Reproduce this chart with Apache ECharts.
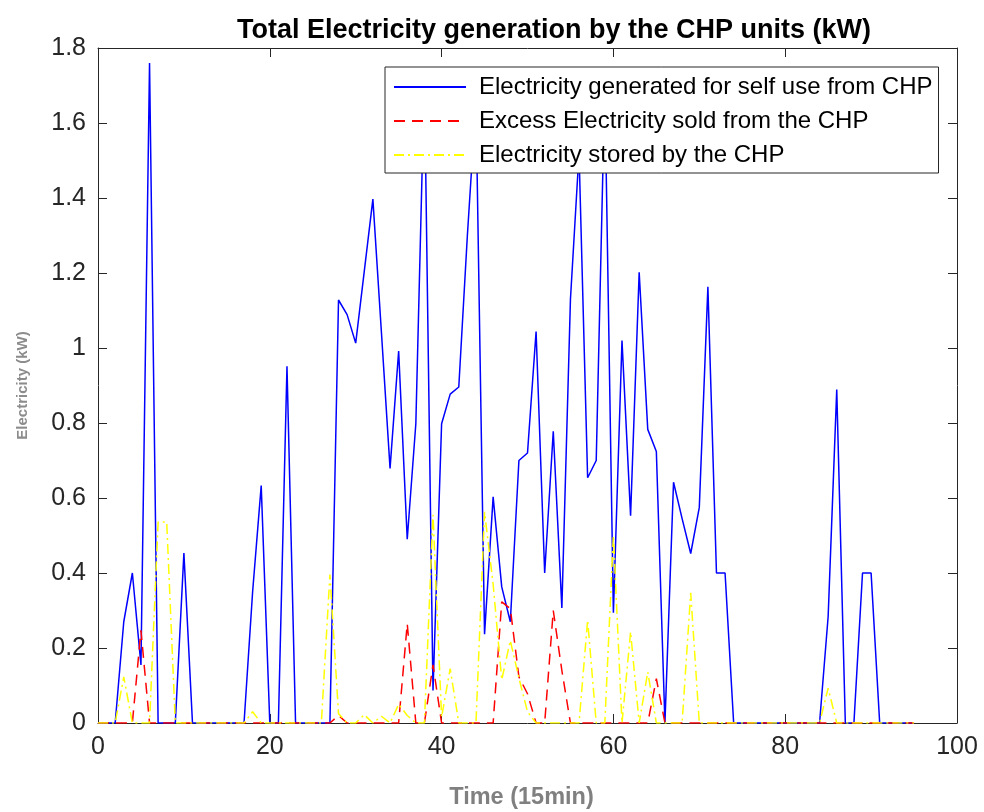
<!DOCTYPE html>
<html><head><meta charset="utf-8">
<script src="https://cdn.jsdelivr.net/npm/echarts@6/dist/echarts.min.js"></script>
<style>html,body{margin:0;padding:0;background:#fff}#c{width:984px;height:812px}</style>
</head><body><div id="c"></div>
<script>
const timeSteps = [
  0,1,2,3,4,5,6,7,8,9,
  10,11,12,13,14,15,16,17,18,19,
  20,21,22,23,24,25,26,27,28,29,
  30,31,32,33,34,35,36,37,38,39,
  40,41,42,43,44,45,46,47,48,49,
  50,51,52,53,54,55,56,57,58,59,
  60,61,62,63,64,65,66,67,68,69,
  70,71,72,73,74,75,76,77,78,79,
  80,81,82,83,84,85,86,87,88,89,
  90,91,92,93,94,95
];
const selfUse = [
  0,0,0,0.27,0.40,0.155,1.76,0,0,0,
  0.453,0,0,0,0,0,0,0,0.35,0.633,
  0,0,0.951,0,0,0,0,0,1.128,1.089,
  1.013,1.205,1.397,1.04,0.679,0.992,0.49,0.798,1.72,0.087,
  0.798,0.877,0.896,1.30,1.66,0.237,0.603,0.363,0.27,0.70,
  0.72,1.044,0.40,0.778,0.307,1.13,1.52,0.654,0.70,1.70,
  0.294,1.02,0.553,1.202,0.783,0.724,0,0.642,0.545,0.452,
  0.575,1.163,0.40,0.40,0,0,0,0,0,0,
  0,0,0,0,0,0.284,0.889,0,0,0.40,
  0.40,0,0,0,0,0
];
const sold = [
  0,0,0,0,0,0.247,0,0,0,0,
  0,0,0,0,0,0,0,0,0,0,
  0,0,0,0,0,0,0,0,0.02,0,
  0,0,0,0,0,0,0.265,0,0,0.155,
  0,0,0,0,0,0,0,0.323,0.305,0.123,
  0.078,0,0,0.30,0.14,0,0,0,0,0,
  0,0,0,0,0,0.118,0,0,0,0,
  0,0,0,0,0,0,0,0,0,0,
  0,0,0,0,0,0,0,0,0,0,
  0,0,0,0,0,0
];
const stored = [
  0,0,0,0.123,0,0,0,0.536,0.536,0,
  0,0,0,0,0,0,0,0,0.03,0,
  0,0,0,0,0,0,0,0.396,0.025,0,
  0,0.022,0,0.018,0,0.05,0.02,0,0,0.555,
  0.016,0.145,0,0,0,0.563,0.37,0.115,0.22,0.12,
  0.03,0,0,0,0,0,0,0.274,0,0,
  0.50,0,0.243,0,0.136,0,0,0,0,0.347,
  0,0,0,0,0,0,0,0,0,0,
  0,0,0,0,0,0.093,0,0,0,0,
  0,0,0,0,0,0
];
const seriesNames = [
  'Electricity generated for self use from CHP',
  'Excess Electricity sold from the CHP',
  'Electricity stored by the CHP'
];
const titleText = 'Total Electricity generation by the CHP units (kW)';
const xName = 'Time (15min)';
const yName = 'Electricity (kW)';

const pairs = arr => timeSteps.map((t, i) => [t, arr[i]]);
const FONT = 'Liberation Sans, Arial, Helvetica, sans-serif';
const AX = '#262626';

const chart = echarts.init(document.getElementById('c'), null, {renderer: 'canvas'});
const baseX = {
  type: 'value', min: 0, max: 100, interval: 20,
  axisLine: {show: true, onZero: false, lineStyle: {color: AX, width: 1}},
  axisTick: {show: true, inside: true, length: 9, lineStyle: {color: AX}},
  splitLine: {show: false}
};
const baseY = {
  type: 'value', min: 0, max: 1.8, interval: 0.2,
  axisLine: {show: true, onZero: false, lineStyle: {color: AX, width: 1}},
  axisTick: {show: true, inside: true, length: 9, lineStyle: {color: AX}},
  splitLine: {show: false}
};
chart.setOption({
  animation: false,
  backgroundColor: '#fff',
  title: {
    text: titleText, left: 549, top: 12, textAlign: 'center',
    textStyle: {fontFamily: FONT, fontSize: 27, fontWeight: 'bold', color: '#000'}
  },
  grid: {left: 98, right: 27, top: 48, bottom: 89, show: false, containLabel: false, outerBoundsMode: 'none'},
  legend: {
    orient: 'vertical', left: 385, top: 67,
    backgroundColor: '#fff', borderColor: AX, borderWidth: 1,
    padding: [8, 6, 6, 8], itemGap: 10, itemWidth: 72, itemHeight: 20,
    itemStyle: {opacity: 0},
    textStyle: {fontFamily: FONT, fontSize: 24, color: '#000', padding: [0, 0, 0, 8]},
    data: seriesNames
  },
  xAxis: [
    Object.assign({}, baseX, {
      position: 'bottom', name: xName, nameLocation: 'middle', nameGap: 63,
      nameTextStyle: {fontFamily: FONT, fontSize: 23.5, color: '#808080', fontWeight: 'bold', padding: [0, 12, 0, 0]},
      axisLabel: {fontFamily: FONT, fontSize: 25, color: AX, margin: 12}
    }),
    Object.assign({}, baseX, {position: 'top', axisLabel: {show: false}})
  ],
  yAxis: [
    Object.assign({}, baseY, {
      position: 'left', name: yName, nameLocation: 'middle', nameGap: 68, nameRotate: 90,
      nameTextStyle: {fontFamily: FONT, fontSize: 15, color: '#8c8c8c', fontWeight: 'bold'},
      axisLabel: {fontFamily: FONT, fontSize: 25, color: AX, margin: 12}
    }),
    Object.assign({}, baseY, {position: 'right', axisLabel: {show: false}})
  ],
  series: [
    {name: seriesNames[0], type: 'line', data: pairs(selfUse), symbol: 'none',
     lineStyle: {color: '#0000ff', width: 1.5, type: 'solid'}, itemStyle: {color: '#0000ff'}},
    {name: seriesNames[1], type: 'line', data: pairs(sold), symbol: 'none',
     lineStyle: {color: '#ff0000', width: 1.5, type: [11, 7]}, itemStyle: {color: '#ff0000'}},
    {name: seriesNames[2], type: 'line', data: pairs(stored), symbol: 'none',
     lineStyle: {color: '#ffff00', width: 1.5, type: [10, 4, 2, 4]}, itemStyle: {color: '#ffff00'}}
  ]
});
</script></body></html>
